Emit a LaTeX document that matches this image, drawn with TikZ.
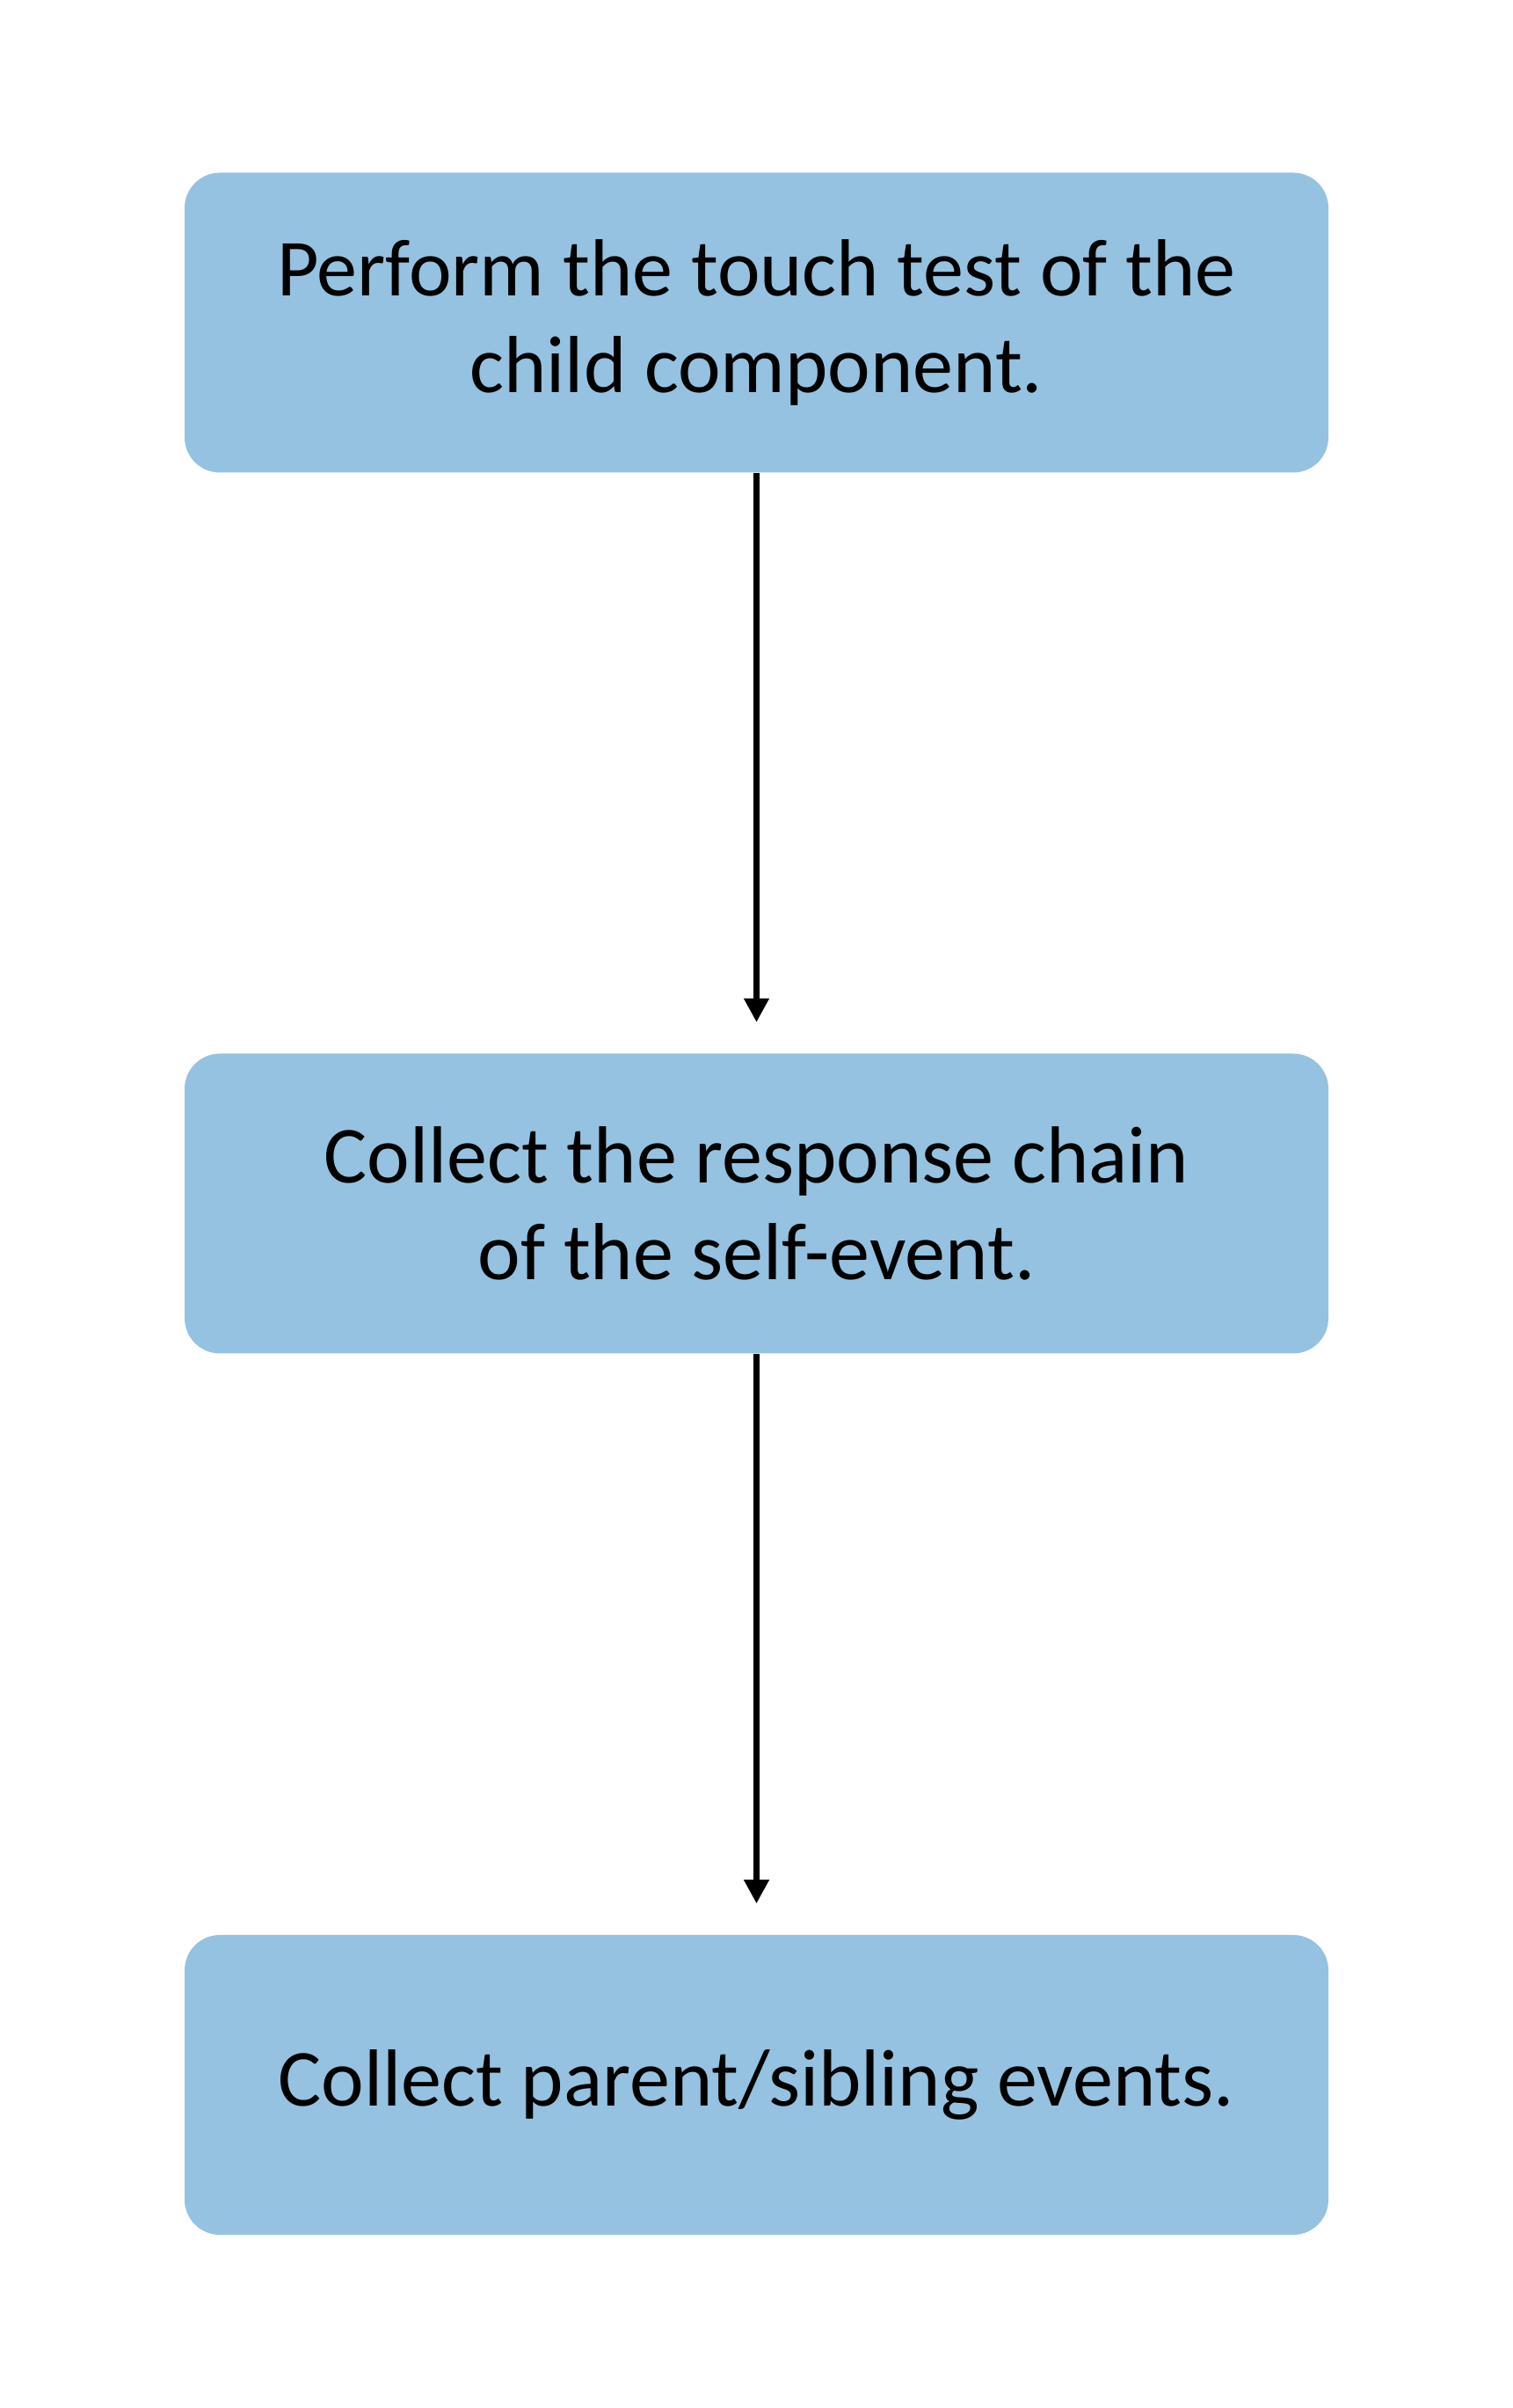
\documentclass[tikz,border=0pt]{standalone}
\usepackage{fontspec}
\setmainfont{Carlito}
\usetikzlibrary{arrows.meta}
\definecolor{boxblue}{RGB}{149,194,224}
\tikzset{
  stepbox/.style={fill=boxblue, rounded corners=0.4cm, minimum width=13.01cm,
    minimum height=3.41cm, align=center, inner sep=0pt,
    font=\fontsize{26.2pt}{31.5pt}\selectfont},
  flow/.style={-{Triangle[width=7.7pt,length=7.7pt]}, line width=2pt, shorten >=3.5mm}
}
\begin{document}
\begin{tikzpicture}
   \useasboundingbox (0,0) rectangle (17.21,27.39);
   \node[stepbox] (touch) at (8.605,23.72) {Perform the touch test of the\\child component.};
   \node[stepbox] (chain) at (8.605,13.70) {Collect the response chain\\of the self-event.};
   \node[stepbox] (parent) at (8.605,3.675) {Collect parent/sibling events.};
   \draw[flow] (touch.south) -- (chain.north);
   \draw[flow] (chain.south) -- (parent.north);
\end{tikzpicture}
\end{document}
